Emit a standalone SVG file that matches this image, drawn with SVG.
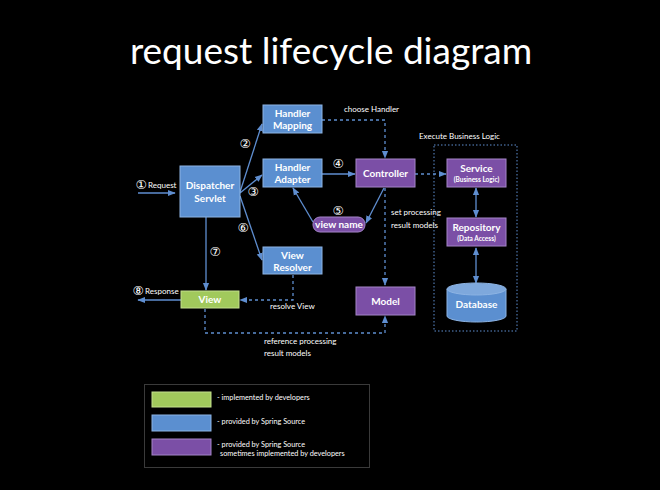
<svg xmlns="http://www.w3.org/2000/svg" width="660" height="490" viewBox="0 0 660 490">
<defs>
<style>
.t{font-family:Lato,"Open Sans","Liberation Sans",sans-serif;fill:#fff}
.bt{font-family:Lato,"Open Sans","Liberation Sans",sans-serif;fill:#fff;font-weight:bold;font-size:10px;text-anchor:middle}
.st{font-family:Lato,"Open Sans","Liberation Sans",sans-serif;fill:#fff;font-weight:bold;font-size:6.5px;text-anchor:middle}
.lb{font-family:Lato,"Open Sans","Liberation Sans",sans-serif;fill:#fff;font-size:8px}
.num{font-family:"DejaVu Sans","Noto Sans CJK SC",sans-serif;fill:#fff;font-size:12.5px;text-anchor:middle}
.blue{fill:#5b8fd0;stroke:#8db4e4;stroke-width:1}
.purple{fill:#7b4fa6;stroke:#a585c8;stroke-width:1}
.green{fill:#a1c95c;stroke:#c4e08e;stroke-width:1}
.ln{fill:none;stroke:#5f8ed0;stroke-width:1.3}
.dl{fill:none;stroke:#5f8ed0;stroke-width:1.3;stroke-dasharray:3 3}
</style>
<marker id="ah" viewBox="0 0 10 10" refX="9" refY="5" markerWidth="6" markerHeight="6" orient="auto-start-reverse">
<path d="M0,1 L10,5 L0,9 z" fill="#5f8ed0"/>
</marker>
</defs>
<rect width="660" height="490" fill="#000"/>
<text class="t" x="331" y="64" font-size="37" text-anchor="middle">request lifecycle diagram</text>

<g id="connectors">
<line class="ln" x1="138" y1="193" x2="175" y2="193" marker-end="url(#ah)"/>
<line class="ln" x1="240" y1="192" x2="262" y2="124" marker-end="url(#ah)"/>
<line class="ln" x1="240" y1="193" x2="262" y2="175" marker-end="url(#ah)"/>
<line class="ln" x1="240" y1="196" x2="262" y2="260" marker-end="url(#ah)"/>
<line class="ln" x1="206" y1="217" x2="206" y2="290" marker-end="url(#ah)"/>
<line class="ln" x1="322" y1="174" x2="355" y2="174" marker-end="url(#ah)"/>
<polyline class="dl" points="322,120 385,120 385,158" marker-end="url(#ah)"/>
<line class="ln" x1="384" y1="188" x2="366" y2="223" marker-end="url(#ah)"/>
<line class="ln" x1="313" y1="222" x2="293" y2="188" marker-end="url(#ah)"/>
<line class="dl" x1="385" y1="188" x2="385" y2="285" marker-end="url(#ah)"/>
<line class="dl" x1="415" y1="174" x2="446" y2="174" marker-end="url(#ah)"/>
<line class="ln" x1="476" y1="188" x2="476" y2="217" marker-start="url(#ah)" marker-end="url(#ah)"/>
<line class="ln" x1="476" y1="248" x2="476" y2="283" marker-start="url(#ah)" marker-end="url(#ah)"/>
<polyline class="dl" points="293,275 293,300 240,300" marker-end="url(#ah)"/>
<line class="ln" x1="181" y1="300" x2="138" y2="300" marker-end="url(#ah)"/>
<polyline class="dl" points="205,309 205,333 385,333 385,316" marker-end="url(#ah)"/>
<rect x="434" y="145" width="83" height="186" fill="none" stroke="#5f8ed0" stroke-width="1" stroke-dasharray="1.5 2"/>
</g>

<g id="labels">
<text class="num" x="141" y="189">①</text>
<text class="lb" x="148" y="188">Request</text>
<text class="num" x="245" y="148">②</text>
<text class="num" x="253" y="196">③</text>
<text class="num" x="338" y="168">④</text>
<text class="num" x="338" y="215">⑤</text>
<text class="num" x="243" y="232">⑥</text>
<text class="num" x="215" y="256">⑦</text>
<text class="num" x="138" y="295">⑧</text>
<text class="lb" x="145" y="294">Response</text>
<text class="lb" x="344" y="112">choose Handler</text>
<text class="lb" x="419" y="139">Execute Business Logic</text>
<text class="lb" x="391" y="215">set processing</text>
<text class="lb" x="391" y="228">result models</text>
<text class="lb" x="270" y="309">resolve View</text>
<text class="lb" x="264" y="344">reference processing</text>
<text class="lb" x="264" y="356">result models</text>
</g>

<g id="dispatcher">
<rect class="blue" x="180" y="166" width="60" height="51"/>
<text class="bt" x="210" y="189">Dispatcher</text>
<text class="bt" x="210" y="202">Servlet</text>
</g>
<g id="handler-mapping">
<rect class="blue" x="263" y="105" width="59" height="28"/>
<text class="bt" x="292.5" y="117">Handler</text>
<text class="bt" x="292.5" y="129">Mapping</text>
</g>
<g id="handler-adapter">
<rect class="blue" x="263" y="159" width="59" height="28"/>
<text class="bt" x="292.5" y="171">Handler</text>
<text class="bt" x="292.5" y="183">Adapter</text>
</g>
<g id="controller">
<rect class="purple" x="356" y="159" width="59" height="28"/>
<text class="bt" x="385.5" y="177">Controller</text>
</g>
<g id="view-name">
<rect class="purple" x="313" y="217" width="52" height="15" rx="7"/>
<text class="bt" x="339" y="228">view name</text>
</g>
<g id="view-resolver">
<rect class="blue" x="263" y="247" width="59" height="27"/>
<text class="bt" x="292.5" y="259">View</text>
<text class="bt" x="292.5" y="271">Resolver</text>
</g>
<g id="view">
<rect class="green" x="181" y="291" width="58" height="17"/>
<text class="bt" x="210" y="303">View</text>
</g>
<g id="model">
<rect class="purple" x="356" y="287" width="59" height="28"/>
<text class="bt" x="385.5" y="305">Model</text>
</g>
<g id="service">
<rect class="purple" x="447" y="159" width="59" height="28"/>
<text class="bt" x="476.5" y="172">Service</text>
<text class="st" x="476.5" y="182">(Business Logic)</text>
</g>
<g id="repository">
<rect class="purple" x="447" y="218" width="59" height="28"/>
<text class="bt" x="476.5" y="231">Repository</text>
<text class="st" x="476.5" y="241">(Data Access)</text>
</g>
<g id="database">
<path d="M447,289 L447,316 A29.5,6 0 0 0 506,316 L506,289" fill="#5b8fd0" stroke="#8db4e4" stroke-width="1"/>
<ellipse cx="476.5" cy="289" rx="29.5" ry="6" fill="#7ea8dc" stroke="#8db4e4" stroke-width="1"/>
<text class="bt" x="476.5" y="308">Database</text>
</g>

<g id="legend">
<rect x="144.5" y="384.5" width="225" height="83" fill="none" stroke="#3a3a3a" stroke-width="1"/>
<rect class="green" x="152" y="392" width="59" height="15"/>
<rect class="blue" x="152" y="415" width="59" height="16"/>
<rect class="purple" x="152" y="439" width="59" height="16"/>
<text class="t" x="217" y="400" font-size="7.3">- implemented by developers</text>
<text class="t" x="217" y="424" font-size="7.3">- provided by Spring Source</text>
<text class="t" x="217" y="447" font-size="7.3">- provided by Spring Source</text>
<text class="t" x="220" y="456" font-size="7.3">sometimes implemented by developers</text>
</g>
</svg>
